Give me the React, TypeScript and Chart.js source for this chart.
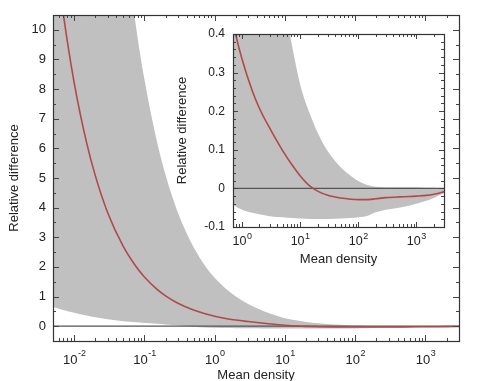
import React, { useEffect, useRef } from "react";
import { Chart, registerables } from "chart.js";

Chart.register(...registerables);

// ---------- data ----------
const densities = [
  0.005, 0.007, 0.01, 0.015, 0.02, 0.03, 0.05, 0.075, 0.1, 0.15, 0.2, 0.3, 0.5, 0.75, 1, 1.5, 2, 3, 5, 7.5,
  10, 15, 20, 30, 50, 75, 100, 150, 200, 300, 500, 750, 1000, 1500, 2000, 3000,
];
const meanDiff = [
  13.3, 10.55, 8.22, 6.2, 5.08, 3.83, 2.69, 2.03, 1.66, 1.25, 1.025, 0.773, 0.542, 0.409, 0.335, 0.253, 0.207, 0.156, 0.098, 0.058,
  0.033, 0.005, -0.007, -0.018, -0.025, -0.028, -0.029, -0.029, -0.027, -0.024, -0.022, -0.021, -0.02, -0.018, -0.015, -0.009,
];
const upperBand = [
  69.2, 54.6, 42.4, 31.8, 26.0, 19.5, 13.6, 10.2, 8.33, 6.25, 5.1, 3.83, 2.67, 2.0, 1.635, 1.23, 1.0, 0.75, 0.507, 0.359,
  0.27, 0.19, 0.145, 0.096, 0.055, 0.032, 0.019, 0.008, 0.004, 0.003, 0.003, 0.003, 0.003, 0.002, 0.002, 0.001,
];
const lowerBand = [
  0.65, 0.55, 0.45, 0.36, 0.3, 0.23, 0.165, 0.13, 0.11, 0.085, 0.06, 0.03, -0.015, -0.045, -0.055, -0.063, -0.067, -0.072, -0.075, -0.077,
  -0.078, -0.079, -0.079, -0.079, -0.078, -0.077, -0.075, -0.07, -0.062, -0.055, -0.05, -0.045, -0.04, -0.032, -0.025, -0.012,
];

const mainXTicks = [0.01, 0.1, 1, 10, 100, 1000];
const mainXExponents = ["-2", "-1", "0", "1", "2", "3"];
const mainYTicks = [0, 1, 2, 3, 4, 5, 6, 7, 8, 9, 10];
const mainYMinor = [-0.5, 0.5, 1.5, 2.5, 3.5, 4.5, 5.5, 6.5, 7.5, 8.5, 9.5, 10.5];

const insetXTicks = [1, 10, 100, 1000];
const insetXExponents = ["0", "1", "2", "3"];
const insetYTicks = [-0.1, 0, 0.1, 0.2, 0.3, 0.4];
const insetYLabels = ["-0.1", "0", "0.1", "0.2", "0.3", "0.4"];
const insetYMinor = [
  -0.08, -0.06, -0.04, -0.02, 0.02, 0.04, 0.06, 0.08, 0.12, 0.14, 0.16, 0.18, 0.22, 0.24, 0.26, 0.28, 0.32, 0.34, 0.36, 0.38,
];

const FONT = "'Liberation Sans', Arial, Helvetica, sans-serif";
const GRAY = "rgb(192,192,192)";
const RED = "rgb(178,72,72)";

function minorLogTicks(min: number, max: number) {
  const out: number[] = [];
  for (let e = -4; e <= 5; e++) {
    for (let m = 2; m <= 9; m++) {
      const v = m * Math.pow(10, e);
      if (v >= min && v <= max) out.push(v);
    }
  }
  return out;
}

const frameTicksPlugin = {
  id: "frameTicks",
  afterDatasetsDraw(chart: any, _args: any, opts: any) {
    const { ctx, chartArea: a, scales } = chart;
    const xs = scales.x;
    const ys = scales.y;
    ctx.save();
    ctx.strokeStyle = "#444";
    ctx.lineWidth = 1;
    const maj = opts.major;
    const min = opts.minor;
    ctx.beginPath();
    const xMinor = minorLogTicks(xs.min, xs.max);
    for (const v of opts.xMajor) {
      const p = Math.round(xs.getPixelForValue(v)) + 0.5;
      ctx.moveTo(p, a.bottom); ctx.lineTo(p, a.bottom - maj);
      ctx.moveTo(p, a.top); ctx.lineTo(p, a.top + maj);
    }
    for (const v of xMinor) {
      const p = Math.round(xs.getPixelForValue(v)) + 0.5;
      ctx.moveTo(p, a.bottom); ctx.lineTo(p, a.bottom - min);
      ctx.moveTo(p, a.top); ctx.lineTo(p, a.top + min);
    }
    for (const v of opts.yMajor) {
      const p = Math.round(ys.getPixelForValue(v)) + 0.5;
      ctx.moveTo(a.left, p); ctx.lineTo(a.left + maj, p);
      ctx.moveTo(a.right, p); ctx.lineTo(a.right - maj, p);
    }
    for (const v of opts.yMinor) {
      const p = Math.round(ys.getPixelForValue(v)) + 0.5;
      ctx.moveTo(a.left, p); ctx.lineTo(a.left + min, p);
      ctx.moveTo(a.right, p); ctx.lineTo(a.right - min, p);
    }
    ctx.stroke();
    // frame
    ctx.strokeStyle = "#333";
    ctx.lineWidth = 1.2;
    ctx.strokeRect(Math.round(a.left) + 0.5, Math.round(a.top) + 0.5, Math.round(a.right - a.left), Math.round(a.bottom - a.top));
    // x tick labels with superscript exponents
    ctx.fillStyle = "#222";
    ctx.textBaseline = "middle";
    ctx.textAlign = "left";
    const baseFont = `${opts.labelSize}px ${FONT}`;
    const supFont = `${opts.supSize}px ${FONT}`;
    opts.xMajor.forEach((v: number, i: number) => {
      const p = xs.getPixelForValue(v);
      ctx.font = baseFont;
      const wb = ctx.measureText("10").width;
      ctx.font = supFont;
      const we = ctx.measureText(opts.xExp[i]).width;
      const x0 = p - (wb + we) / 2;
      const yc = a.bottom + opts.labelOffset;
      ctx.font = baseFont;
      ctx.fillText("10", x0, yc);
      ctx.font = supFont;
      ctx.fillText(opts.xExp[i], x0 + wb + 0.5, yc - opts.supRaise);
    });
    ctx.restore();
  },
};

function ds(label: string, values: number[], extra: any) {
  return {
    label,
    data: densities.map((x, i) => ({ x, y: values[i] })),
    pointRadius: 0,
    ...extra,
  };
}

function zeroLine(min: number, max: number) {
  return {
    label: "zero",
    data: [{ x: min, y: 0 }, { x: max, y: 0 }],
    borderColor: "#555",
    borderWidth: 1.2,
    pointRadius: 0,
    fill: false,
    order: 1,
  };
}

function buildConfig(p: any) {
  return {
    type: "line",
    data: {
      datasets: [
        ds("upper", upperBand, { borderWidth: 0, borderColor: GRAY, backgroundColor: GRAY, fill: "+1", cubicInterpolationMode: "monotone", order: 3 }),
        ds("lower", lowerBand, { borderWidth: 0, borderColor: GRAY, fill: false, cubicInterpolationMode: "monotone", order: 2 }),
        zeroLine(p.xMin, p.xMax),
        ds("mean", meanDiff, { borderColor: RED, borderWidth: 1.6, fill: false, cubicInterpolationMode: "monotone", order: 0 }),
      ],
    },
    options: {
      animation: false,
      responsive: false,
      devicePixelRatio: 1,
      layout: { padding: p.padding },
      plugins: {
        legend: { display: false },
        tooltip: { enabled: false },
        frameTicks: p.ticks,
      },
      scales: {
        x: {
          type: "logarithmic",
          min: p.xMin,
          max: p.xMax,
          grid: { display: false, drawTicks: false },
          border: { display: false },
          ticks: { display: false },
          afterFit: (s: any) => { s.height = p.xHeight; },
          title: {
            display: true,
            text: "Mean density",
            color: "#222",
            font: { family: FONT, size: p.titleSize },
            padding: { top: 0, bottom: p.xTitlePad },
          },
        },
        y: {
          type: "linear",
          min: p.yMin,
          max: p.yMax,
          grid: { display: false, drawTicks: false },
          border: { display: false },
          afterBuildTicks: (s: any) => { s.ticks = p.yTicks.map((v: number) => ({ value: v })); },
          afterFit: (s: any) => { s.width = p.yWidth; },
          ticks: {
            color: "#222",
            padding: p.yTickPad,
            font: { family: FONT, size: p.labelSize },
            callback: p.yCallback,
          },
          title: {
            display: true,
            text: "Relative difference",
            color: "#222",
            font: { family: FONT, size: p.titleSize },
            padding: { top: p.yTitlePad, bottom: 0 },
          },
        },
      },
    },
    plugins: [frameTicksPlugin],
  } as any;
}

const mainParams = {
  xMin: 0.005, xMax: 3000, yMin: -0.5, yMax: 10.5,
  padding: { left: 0, top: 15, right: 21, bottom: 0 },
  xHeight: 40, yWidth: 53, yTickPad: 7, xTitlePad: -2, yTitlePad: 7,
  labelSize: 13, titleSize: 13,
  yTicks: mainYTicks,
  yCallback: (v: number) => String(v),
  ticks: {
    xMajor: mainXTicks, xExp: mainXExponents, yMajor: mainYTicks, yMinor: mainYMinor,
    major: 6, minor: 3, labelSize: 13, supSize: 9, labelOffset: 19, supRaise: 6,
  },
};

const insetParams = {
  xMin: 0.72, xMax: 3000, yMin: -0.1, yMax: 0.4,
  padding: { left: 173, top: 34, right: 36, bottom: 114 },
  xHeight: 40, yWidth: 60, yTickPad: 8, xTitlePad: 0, yTitlePad: 2,
  labelSize: 12, titleSize: 13,
  yTicks: insetYTicks,
  yCallback: (v: number) => insetYLabels[insetYTicks.findIndex((t) => Math.abs(t - v) < 1e-9)] ?? "",
  ticks: {
    xMajor: insetXTicks, xExp: insetXExponents, yMajor: insetYTicks, yMinor: insetYMinor,
    major: 5, minor: 3, labelSize: 12.5, supSize: 9, labelOffset: 15, supRaise: 5,
  },
};

export default function App() {
  const mainRef = useRef<HTMLCanvasElement>(null);
  const insetRef = useRef<HTMLCanvasElement>(null);
  useEffect(() => {
    const c1 = new Chart(mainRef.current as HTMLCanvasElement, buildConfig(mainParams));
    const c2 = new Chart(insetRef.current as HTMLCanvasElement, buildConfig(insetParams));
    return () => { c1.destroy(); c2.destroy(); };
  }, []);
  const box: React.CSSProperties = { position: "fixed", left: 0, top: 0, width: 480, height: 381 };
  return (
    <div style={{ ...box, background: "#fff" }}>
      <canvas ref={mainRef} width={480} height={381} style={{ ...box }} />
      <canvas ref={insetRef} width={480} height={381} style={{ ...box }} />
    </div>
  );
}
